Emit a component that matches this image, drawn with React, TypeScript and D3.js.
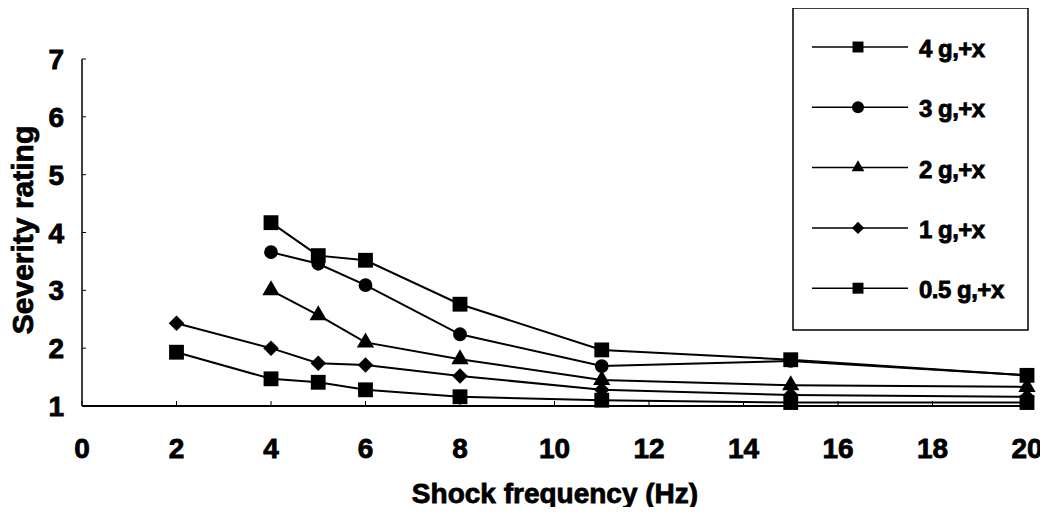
import React, { useRef, useEffect } from 'react';
import * as d3 from 'd3';

// Shock frequency (Hz)
const freq4 = [4, 5, 6, 8, 11, 15, 20];
const freqLow = [2, 4, 5, 6, 8, 11, 15, 20];

const labels = ['4 g,+x', '3 g,+x', '2 g,+x', '1 g,+x', '0.5 g,+x'];
const rating4g = [4.17, 3.6, 3.52, 2.76, 1.97, 1.8, 1.53];
const rating3g = [3.66, 3.46, 3.09, 2.24, 1.69, 1.78, 1.53];
const rating2g = [3.0, 2.57, 2.1, 1.81, 1.45, 1.36, 1.33];
const rating1g = [2.43, 2.0, 1.74, 1.71, 1.52, 1.28, 1.19, 1.16];
const rating05g = [1.93, 1.47, 1.41, 1.28, 1.16, 1.1, 1.06, 1.06];
const symbols = ['square', 'circle', 'triangle', 'diamond', 'square'];

const xTicks = [0, 2, 4, 6, 8, 10, 12, 14, 16, 18, 20];
const yTicks = [1, 2, 3, 4, 5, 6, 7];

// marker areas: plot / legend
const plotSize: Record<string, number> = { square: 220, circle: 150, triangle: 130, diamond: 120 };
const legendSize: Record<string, number> = { square: 120, circle: 115, triangle: 70, diamond: 75 };

const App = () => {
  const ref = useRef<SVGSVGElement>(null);

  useEffect(() => {
    const width = 1048;
    const height = 515;
    const svg = d3.select(ref.current);
    svg.selectAll('*').remove();
    svg.attr('width', width).attr('height', height);

    const font = '"Liberation Sans", Arial, sans-serif';

    const x = d3.scaleLinear().domain([0, 20]).range([82, 1027]);
    const y = d3.scaleLinear().domain([1, 7]).range([406, 59]);

    const series = [
      { xs: freq4, ys: rating4g },
      { xs: freq4, ys: rating3g },
      { xs: freq4, ys: rating2g },
      { xs: freqLow, ys: rating1g },
      { xs: freqLow, ys: rating05g },
    ];

    const marker = (name: string, size: number) => {
      if (name === 'diamond') {
        // square rotated 45 degrees
        const h = Math.sqrt(size * 2) / 2;
        return `M0,${-h}L${h},0L0,${h}L${-h},0Z`;
      }
      const t = name === 'circle' ? d3.symbolCircle : name === 'triangle' ? d3.symbolTriangle : d3.symbolSquare;
      return d3.symbol().type(t).size(size)() as string;
    };

    const boldText = (sel: d3.Selection<SVGTextElement, any, any, any>, size: number) =>
      sel.style('font-family', font)
        .style('font-weight', 'bold')
        .style('font-size', `${size}px`)
        .attr('fill', '#000')
        .attr('stroke', '#000')
        .attr('stroke-width', 0.8);

    // axes
    svg.append('line')
      .attr('x1', 82).attr('x2', 82)
      .attr('y1', y(7)).attr('y2', y(1))
      .attr('stroke', '#000').attr('stroke-width', 1.5);
    svg.append('line')
      .attr('x1', 82).attr('x2', 1032)
      .attr('y1', y(1)).attr('y2', y(1))
      .attr('stroke', '#000').attr('stroke-width', 2);

    svg.selectAll('.ytick')
      .data(yTicks)
      .enter().append('line')
      .attr('x1', 82).attr('x2', 86)
      .attr('y1', d => y(d)).attr('y2', d => y(d))
      .attr('stroke', '#000');

    svg.selectAll('.xtick')
      .data(xTicks)
      .enter().append('line')
      .attr('x1', d => x(d)).attr('x2', d => x(d))
      .attr('y1', y(1)).attr('y2', y(1) - 5)
      .attr('stroke', '#000');

    boldText(svg.selectAll('.ylab')
      .data(yTicks)
      .enter().append('text')
      .attr('x', 64)
      .attr('y', d => y(d) + 10)
      .attr('text-anchor', 'end')
      .text(d => d), 28);

    boldText(svg.selectAll('.xlab')
      .data(xTicks)
      .enter().append('text')
      .attr('x', d => x(d))
      .attr('y', 458)
      .attr('text-anchor', 'middle')
      .text(d => d), 28);

    boldText(svg.append('text')
      .attr('x', 555).attr('y', 503)
      .attr('text-anchor', 'middle')
      .text('Shock frequency (Hz)'), 28);

    boldText(svg.append('text')
      .attr('transform', 'translate(33,230) rotate(-90)')
      .attr('text-anchor', 'middle')
      .text('Severity rating'), 30);

    const line = d3.line<[number, number]>()
      .x(d => x(d[0]))
      .y(d => y(d[1]));

    series.forEach((s, i) => {
      const pts = s.xs.map((v, j) => [v, s.ys[j]] as [number, number]);
      svg.append('path')
        .datum(pts)
        .attr('d', line)
        .attr('fill', 'none')
        .attr('stroke', '#000')
        .attr('stroke-width', 2);
      const d = marker(symbols[i], plotSize[symbols[i]]);
      svg.selectAll(`.m${i}`)
        .data(pts)
        .enter().append('path')
        .attr('transform', p => `translate(${x(p[0])},${y(p[1])})`)
        .attr('d', d)
        .attr('fill', '#000');
    });

    // legend
    const lg = svg.append('g');
    lg.append('rect')
      .attr('x', 793).attr('y', 8)
      .attr('width', 235).attr('height', 322)
      .attr('fill', 'none')
      .attr('stroke', '#000')
      .attr('stroke-width', 1.5);

    labels.forEach((lab, i) => {
      const ly = 47 + i * 60.3;
      lg.append('line')
        .attr('x1', 812).attr('x2', 908)
        .attr('y1', ly).attr('y2', ly)
        .attr('stroke', '#000').attr('stroke-width', 1.5);
      lg.append('path')
        .attr('transform', `translate(858,${ly})`)
        .attr('d', marker(symbols[i], legendSize[symbols[i]]))
        .attr('fill', '#000');
      boldText(lg.append('text')
        .attr('x', 919).attr('y', ly + 10)
        .style('letter-spacing', '-0.5px')
        .text(lab), 24);
    });
  }, []);

  return <svg ref={ref} style={{ display: 'block', margin: '-8px' }}></svg>;
};

export default App;
